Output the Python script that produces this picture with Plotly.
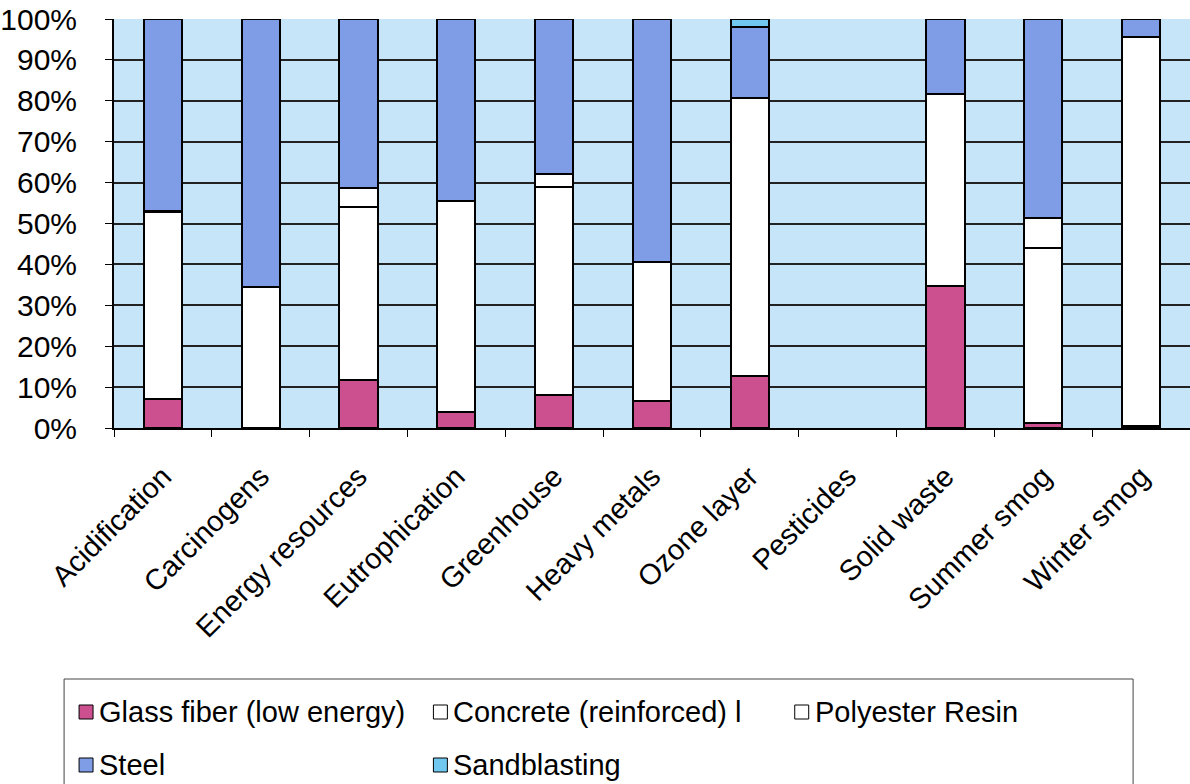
import plotly.graph_objects as go

categories = ["Acidification", "Carcinogens", "Energy resources", "Eutrophication",
              "Greenhouse", "Heavy metals", "Ozone layer", "Pesticides",
              "Solid waste", "Summer smog", "Winter smog"]

glass_fiber = [7.0, None, 11.8, 4.0, 8.1, 6.5, 12.7, None, 34.7, 1.3, 0.4]
concrete = [45.8, 34.5, 42.2, 51.5, 50.9, 34.0, 67.9, None, 46.9, 42.8, 95.2]
polyester = [0.3, None, 4.7, None, 3.2, None, None, None, None, 7.3, None]
steel = [46.9, 65.5, 41.3, 44.5, 37.8, 59.5, 17.4, None, 18.4, 48.6, 4.4]
sandblasting = [None, None, None, None, None, None, 2.0, None, None, None, None]

series_names = ["Glass fiber (low energy)", "Concrete (reinforced) l", "Polyester Resin",
                "Steel", "Sandblasting"]
series_values = [glass_fiber, concrete, polyester, steel, sandblasting]
series_colors = ["#CC5090", "#FFFFFF", "#FFFFFF", "#7F9DE6", "#70C8F0"]
y_ticks = list(range(0, 101, 10))
y_tick_labels = [f"{v}%" for v in y_ticks]

FONT = "Liberation Sans, Arial, sans-serif"
W, H = 1190, 784
ML, MR, MT, MB = 112, 0, 19, 356

fig = go.Figure()
for name, vals, col in zip(series_names, series_values, series_colors):
    fig.add_trace(go.Bar(
        x=categories, y=vals, name=name,
        marker=dict(color=col, line=dict(color="black", width=2)),
        showlegend=False,
    ))

fig.update_layout(
    width=W, height=H,
    margin=dict(l=ML, r=MR, t=MT, b=MB),
    barmode="stack", bargap=0.61,
    plot_bgcolor="#C7E5F9", paper_bgcolor="white",
    font=dict(family=FONT, size=29, color="black"),
)
fig.update_yaxes(
    range=[0, 100], tickvals=y_ticks, ticktext=y_tick_labels,
    showgrid=True, gridcolor="#222222", gridwidth=1.5,
    showline=True, linecolor="black", linewidth=2,
    ticks="outside", ticklen=7, tickcolor="black", tickwidth=1,
    ticklabelstandoff=22, zeroline=False,
    tickfont=dict(size=30, family=FONT),
)
fig.update_xaxes(
    tickangle=-45, tickson="boundaries",
    showline=True, linecolor="black", linewidth=2,
    ticks="outside", ticklen=7, tickcolor="black", tickwidth=1,
    ticklabelstandoff=18,
    tickfont=dict(size=29, family=FONT),
    showgrid=False,
)

# custom legend (pixel positions converted to paper coords)
pw = W - ML - MR
ph = H - MT - MB
def px(x):
    return (x - ML) / pw
def py(y):
    return (H - MB - y) / ph

fig.add_shape(type="rect", xref="paper", yref="paper",
              x0=px(62), x1=px(1133), y0=py(679), y1=py(800),
              line=dict(color="#444444", width=1), fillcolor="rgba(0,0,0,0)")

legend_pos = [(77, 712), (432, 712), (794, 712), (77, 765), (432, 765)]
for (name, col), (mx, my) in zip(zip(series_names, series_colors), legend_pos):
    fig.add_shape(type="rect", xref="paper", yref="paper",
                  x0=px(mx), x1=px(mx + 14), y0=py(my + 7), y1=py(my - 7),
                  line=dict(color="black", width=1), fillcolor=col)
    fig.add_annotation(xref="paper", yref="paper", x=px(mx + 18), y=py(my),
                       text=name, showarrow=False, xanchor="left", yanchor="middle",
                       font=dict(size=29, family=FONT, color="black"))

fig.write_html("out.html")
